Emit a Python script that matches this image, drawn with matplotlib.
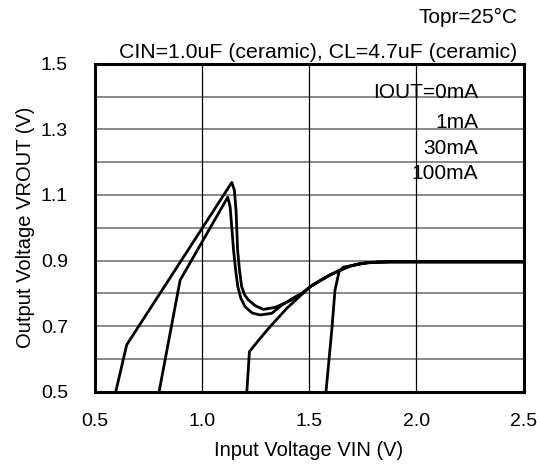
import matplotlib
matplotlib.use("Agg")
import matplotlib.pyplot as plt

plt.rcParams['font.family'] = ['Liberation Sans', 'DejaVu Sans']

# merged tail shared by all curves
tail_vin = [1.505, 1.55, 1.598, 1.65, 1.691, 1.73, 1.769, 1.82, 1.878, 2.5]
tail_vout = [0.820, 0.838, 0.856, 0.872, 0.883, 0.889, 0.893, 0.895, 0.896, 0.896]

vin_0mA = [0.599, 0.650, 1.140, 1.152, 1.160, 1.167, 1.176, 1.186, 1.200, 1.217, 1.250, 1.287,
           1.341, 1.380, 1.419, 1.466]
vout_0mA = [0.500, 0.643, 1.138, 1.114, 1.050, 0.932, 0.870, 0.820, 0.795, 0.780, 0.762, 0.751,
            0.757, 0.768, 0.780, 0.800]

vin_1mA = [0.801, 0.899, 1.121, 1.132, 1.140, 1.148, 1.158, 1.168, 1.182, 1.202, 1.235, 1.272,
           1.326, 1.373, 1.430, 1.481]
vout_1mA = [0.500, 0.840, 1.093, 1.064, 1.000, 0.932, 0.870, 0.820, 0.785, 0.759, 0.740, 0.734,
            0.739, 0.764, 0.787, 0.805]

vin_30mA = [1.210, 1.222, 1.265, 1.318, 1.396, 1.450]
vout_30mA = [0.500, 0.622, 0.657, 0.698, 0.754, 0.787]

vin_100mA = [1.579, 1.606, 1.621, 1.640, 1.660]
vout_100mA = [0.500, 0.688, 0.810, 0.866, 0.880]

labels = ["IOUT=0mA", "1mA", "30mA", "100mA"]
label_y = [1.411, 1.322, 1.243, 1.166]

x_ticks = [0.5, 1.0, 1.5, 2.0, 2.5]
y_ticks = [0.5, 0.7, 0.9, 1.1, 1.3, 1.5]

fig = plt.figure(figsize=(5.37, 4.66), dpi=100)
ax = fig.add_axes([0.176, 0.1594, 0.799, 0.7039])

# grid
for yv in [0.6, 0.7, 0.8, 0.9, 1.0, 1.1, 1.2, 1.3, 1.4]:
    ax.axhline(yv, color='#808080', lw=1.3, zorder=1)
for xv in [1.0, 1.5, 2.0]:
    ax.axvline(xv, color='black', lw=0.9, zorder=1)

series = [
    (vin_0mA + tail_vin, vout_0mA + tail_vout),
    (vin_1mA + tail_vin, vout_1mA + tail_vout),
    (vin_30mA + tail_vin, vout_30mA + tail_vout),
    (vin_100mA + tail_vin[4:], vout_100mA + tail_vout[4:]),
]

for xs, ys in series:
    ax.plot(xs, ys, color='black', lw=2.0, zorder=3, solid_joinstyle='round')

for lab, yy in zip(labels, label_y):
    ax.text(2.288, yy, lab, ha='right', va='center', fontsize=15, zorder=4)

ax.set_xlim(0.5, 2.5)
ax.set_ylim(0.5, 1.5)
ax.set_xticks(x_ticks)
ax.set_xticklabels([f"{v:.1f}" for v in x_ticks])
ax.set_yticks(y_ticks)
ax.set_yticklabels([f"{v:.1f}" for v in y_ticks])
ax.tick_params(length=0, labelsize=14)
ax.tick_params(axis='x', pad=15)
ax.tick_params(axis='y', pad=19)
for s in ax.spines.values():
    s.set_linewidth(2.2)
    s.set_zorder(5)

ax.set_xlabel("Input Voltage VIN (V)", fontsize=14.5, labelpad=8)
ax.set_ylabel("Output Voltage VROUT (V)", fontsize=14.5, labelpad=4)

fig.text(0.963, 0.962, "Topr=25°C", ha='right', va='center', fontsize=15)
fig.text(0.963, 0.887, "CIN=1.0uF (ceramic), CL=4.7uF (ceramic)", ha='right', va='center', fontsize=15.3)

fig.savefig("out.png", dpi=100)
